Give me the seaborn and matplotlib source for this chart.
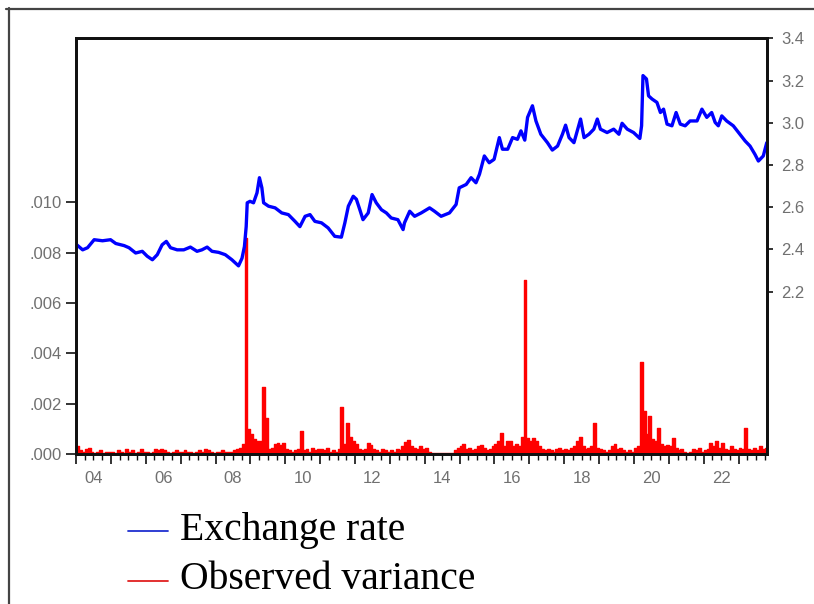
import numpy as np
import pandas as pd
import matplotlib
matplotlib.use("Agg")
import matplotlib.pyplot as plt
from matplotlib.lines import Line2D
import seaborn as sns

# ---------------- data ----------------
rate_years = [
    2004.02, 2004.19, 2004.33, 2004.52, 2004.76, 2004.99, 2005.14, 2005.38, 2005.52, 2005.71,
    2005.90, 2006.04, 2006.19, 2006.33, 2006.47, 2006.59, 2006.71, 2006.90, 2007.09, 2007.28,
    2007.47, 2007.61, 2007.76, 2007.90, 2008.09, 2008.28, 2008.47, 2008.66, 2008.76, 2008.83,
    2008.88, 2008.91, 2008.99, 2009.09, 2009.19, 2009.26, 2009.33, 2009.38, 2009.52, 2009.71,
    2009.90, 2010.09, 2010.28, 2010.42, 2010.57, 2010.71, 2010.85, 2011.04, 2011.23, 2011.42,
    2011.61, 2011.71, 2011.81, 2011.95, 2012.04, 2012.14, 2012.23, 2012.38, 2012.49, 2012.61,
    2012.76, 2012.90, 2013.04, 2013.23, 2013.38, 2013.42, 2013.57, 2013.71, 2013.90, 2014.14,
    2014.28, 2014.47, 2014.71, 2014.90, 2014.99, 2015.19, 2015.33, 2015.47, 2015.57, 2015.71,
    2015.85, 2015.99, 2016.14, 2016.23, 2016.38, 2016.52, 2016.66, 2016.76, 2016.87, 2016.95,
    2017.09, 2017.19, 2017.33, 2017.52, 2017.66, 2017.81, 2017.95, 2018.04, 2018.14, 2018.28,
    2018.47, 2018.57, 2018.71, 2018.85, 2018.95, 2019.04, 2019.23, 2019.42, 2019.57, 2019.66,
    2019.81, 2019.99, 2020.17, 2020.22, 2020.26, 2020.36, 2020.42, 2020.52, 2020.66, 2020.76,
    2020.85, 2020.95, 2021.09, 2021.21, 2021.33, 2021.47, 2021.61, 2021.81, 2021.95, 2022.09,
    2022.23, 2022.33, 2022.42, 2022.52, 2022.66, 2022.85, 2023.04, 2023.19, 2023.33, 2023.47,
    2023.57, 2023.71, 2023.81,
]
rate_values = [
    2.422, 2.398, 2.408, 2.446, 2.441, 2.446, 2.428, 2.418, 2.408, 2.383,
    2.391, 2.368, 2.351, 2.375, 2.422, 2.438, 2.408, 2.398, 2.398, 2.411,
    2.391, 2.398, 2.411, 2.391, 2.386, 2.375, 2.351, 2.322, 2.358, 2.414,
    2.508, 2.621, 2.628, 2.621, 2.668, 2.740, 2.692, 2.621, 2.605, 2.597,
    2.573, 2.565, 2.533, 2.508, 2.557, 2.565, 2.533, 2.526, 2.502, 2.462,
    2.458, 2.526, 2.605, 2.652, 2.638, 2.588, 2.541, 2.573, 2.660, 2.621,
    2.588, 2.573, 2.549, 2.541, 2.494, 2.526, 2.581, 2.557, 2.573, 2.597,
    2.581, 2.557, 2.573, 2.613, 2.692, 2.708, 2.740, 2.716, 2.756, 2.843,
    2.811, 2.827, 2.930, 2.875, 2.875, 2.930, 2.922, 2.962, 2.918, 3.026,
    3.081, 3.009, 2.946, 2.906, 2.871, 2.890, 2.946, 2.989, 2.930, 2.906,
    3.018, 2.930, 2.946, 2.970, 3.018, 2.970, 2.954, 2.970, 2.946, 2.998,
    2.970, 2.954, 2.926, 2.986, 3.224, 3.208, 3.128, 3.113, 3.097, 3.049,
    3.065, 2.994, 2.986, 3.049, 2.994, 2.986, 3.009, 3.009, 3.065, 3.026,
    3.049, 3.002, 2.986, 3.033, 3.009, 2.986, 2.946, 2.914, 2.890, 2.851,
    2.819, 2.843, 2.906,
]

# monthly observed variance, in units of 1e-4, Jan 2004 .. Oct 2023
variance_1e4 = [
    3, 1.5, 1, 2, 2.5, 1, 0.5, 1, 1.5, 0.5, 1, 1,            # 2004
    1, 0.5, 1.5, 1, 0.5, 2, 1, 1.5, 0.5, 1, 2, 1,            # 2005
    1, 0.5, 1, 2, 1.5, 2, 1.5, 1, 0.5, 1, 1.5, 1,            # 2006
    1, 1.5, 1, 1, 0.5, 1, 1.5, 1, 2, 1.5, 1, 0.5,            # 2007
    1, 1, 1.5, 1, 1, 1, 1.5, 2, 2.5, 4, 85.7, 10,            # 2008
    8, 6, 5, 5, 26.7, 14.3, 2, 2.5, 4, 4.5, 3.5, 4.5,        # 2009
    2, 1.5, 1, 1.5, 2, 9, 1.5, 2, 1, 2.5, 1.5, 2,            # 2010
    2, 1.5, 2.5, 1, 1.5, 1, 2, 18.8, 4, 12.2, 6.9, 5,        # 2011
    4, 2, 1.5, 2, 4.3, 3.5, 2, 1.5, 1, 2, 1.5, 1,            # 2012
    1.5, 1, 2, 1.5, 3, 4.8, 5.5, 3, 2.5, 2, 3, 2,            # 2013
    2.5, 1, 0.5, 0.5, 0.3, 0.5, 0.5, 0.3, 0.5, 0.5, 1.5, 2.5,  # 2014
    3, 4, 2, 2.5, 1.5, 2, 3, 3.5, 2.5, 1.5, 2, 3,            # 2015
    4, 5, 8.3, 3, 5, 5, 3, 4, 3, 6.6, 69.2, 6.4,             # 2016
    5, 6.4, 5, 3, 2, 1.5, 2, 1.5, 1, 2, 2.5, 1.5,            # 2017
    2, 1.5, 2.5, 3, 5, 6.6, 3, 2, 2.5, 3, 12.2, 2.5,         # 2018
    2, 1.5, 1, 1.5, 3, 4, 2, 2.5, 1.5, 1, 1.5, 1,            # 2019
    2.5, 3, 36.6, 17, 8, 15, 6, 5, 10.2, 4, 3, 3.5,          # 2020
    3, 6.2, 2.5, 1.5, 2, 1, 0.5, 1, 2, 1.5, 2.5, 1,          # 2021
    1.5, 2, 4.5, 3, 5, 2.5, 4.5, 2, 1.5, 3, 2, 1.5,          # 2022
    2.5, 2, 10.2, 2, 1.5, 2.5, 1.5, 3, 2, 2.5,               # 2023
]
variance_dates = pd.date_range("2004-01-01", periods=len(variance_1e4), freq="MS")

left_ticks = [0.000, 0.002, 0.004, 0.006, 0.008, 0.010]
right_ticks = [2.2, 2.4, 2.6, 2.8, 3.0, 3.2, 3.4]
year_label_pos = [2004.5, 2006.5, 2008.5, 2010.5, 2012.5, 2014.5, 2016.5, 2018.5, 2020.5, 2022.5]
year_labels = ["04", "06", "08", "10", "12", "14", "16", "18", "20", "22"]
legend_labels = ["Exchange rate", "Observed variance"]

# ---------------- frame ----------------
var_x = variance_dates.year + (variance_dates.month - 0.5) / 12.0
var_y = np.array(variance_1e4) * 1e-4
rate_df = pd.DataFrame({"year": rate_years, "rate": rate_values})
var_df = pd.DataFrame({"year": var_x, "variance": var_y})

sns.set_theme(style="white")
plt.rcParams["font.family"] = ["Liberation Sans", "DejaVu Sans"]

BLUE = "#0000ff"
RED = "#ff0000"
TICK_GRAY = "#707070"

fig = plt.figure(figsize=(8.14, 6.04), dpi=100)
fig.patch.set_facecolor("white")
ax = fig.add_axes([0.0934, 0.2483, 0.849, 0.688])
ax2 = ax.twinx()

# observed variance (left axis)
ax.fill_between(var_df["year"], 0, var_df["variance"], step="mid", color=RED, linewidth=0)
sns.lineplot(data=var_df, x="year", y="variance", ax=ax, color=RED, linewidth=1.0,
             drawstyle="steps-mid", estimator=None, errorbar=None)

# exchange rate (right axis)
sns.lineplot(data=rate_df, x="year", y="rate", ax=ax2, color=BLUE, linewidth=2.4,
             estimator=None, errorbar=None, sort=False)

x0, x1 = 2004.0, 2023.82
ax.set_xlim(x0, x1)
ax.set_ylim(0, 0.0165)
ax2.set_ylim(1.43, 3.40)
ax.set_xlabel("")
ax.set_ylabel("")
ax2.set_xlabel("")
ax2.set_ylabel("")

for a in (ax, ax2):
    for s in a.spines.values():
        s.set_color("#111111")
        s.set_linewidth(2.0)
        s.set_visible(True)

ax.set_yticks(left_ticks)
ax.set_yticklabels([f"{v:.3f}".lstrip("0") for v in left_ticks])
ax.tick_params(axis="y", left=True, direction="out", length=7, width=1.2, pad=3,
               labelsize=12, labelcolor=TICK_GRAY, color="#111111")
ax2.set_yticks(right_ticks)
ax2.set_yticklabels([f"{v:.1f}" for v in right_ticks])
ax2.tick_params(axis="y", right=True, direction="out", length=4, width=1.2, pad=6,
                labelsize=12, labelcolor=TICK_GRAY, color="#111111")

ax.set_xticks(np.arange(2004, 2024))
ax.set_xticks(np.arange(2004, 2023.9, 0.25), minor=True)
ax.tick_params(axis="x", which="major", bottom=True, direction="out", length=7, width=1.2,
               labelbottom=False, color="#111111")
ax.tick_params(axis="x", which="minor", bottom=True, direction="out", length=4, width=1.0,
               color="#111111")
ax2.tick_params(axis="x", bottom=False, labelbottom=False)

sec = ax.secondary_xaxis("bottom")
sec.set_xticks(year_label_pos)
sec.set_xticklabels(year_labels)
sec.tick_params(axis="x", length=0, pad=12, labelsize=12, labelcolor=TICK_GRAY)
sec.spines["bottom"].set_visible(False)

# legend drawn below the plot
W, H = 814.0, 604.0
fig.add_artist(Line2D([128 / W, 168 / W], [1 - 531 / H, 1 - 531 / H], color="#1f2fd0", lw=1.3))
fig.add_artist(Line2D([128 / W, 168 / W], [1 - 581 / H, 1 - 581 / H], color="#e02020", lw=1.3))
fig.text(180 / W, 1 - 540 / H, legend_labels[0], family=["Liberation Serif", "DejaVu Serif"],
         fontsize=28.5, color="black", va="baseline", ha="left")
fig.text(180 / W, 1 - 589 / H, legend_labels[1], family=["Liberation Serif", "DejaVu Serif"],
         fontsize=28.5, color="black", va="baseline", ha="left")

# outer frame (top and left edges)
fig.add_artist(Line2D([6 / W, 1.0], [1 - 8.5 / H, 1 - 8.5 / H], color="#444444", lw=1.6))
fig.add_artist(Line2D([8.5 / W, 8.5 / W], [0.0, 1 - 8 / H], color="#444444", lw=1.6))

fig.savefig("out.png", dpi=100, facecolor="white")
